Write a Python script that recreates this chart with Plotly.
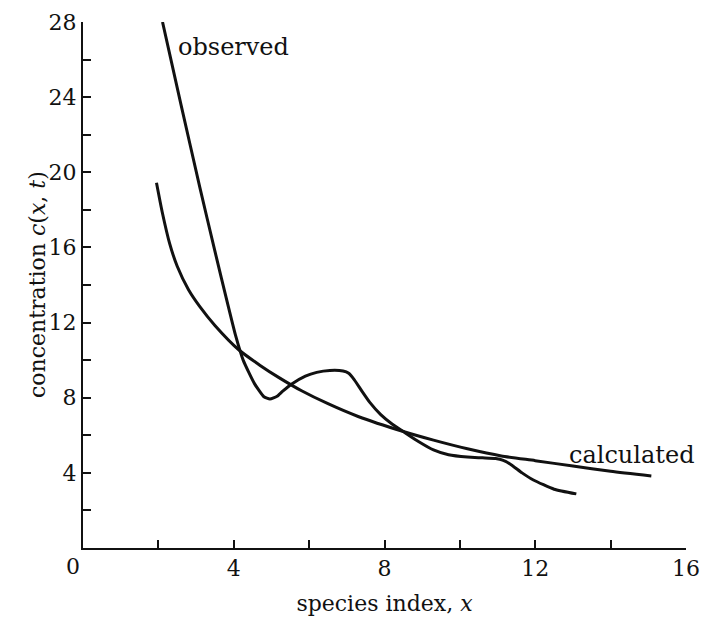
import plotly.graph_objects as go

# observed concentration curve
obs_x = [2.11, 2.6, 3.1, 3.5, 3.85, 4.05, 4.25, 4.55, 4.8, 4.96, 5.15, 5.3, 5.53,
         5.9, 6.2, 6.55, 6.9, 7.05, 7.2, 7.4, 7.61, 7.9, 8.2, 8.5, 8.9, 9.3, 9.7, 10.2,
         10.6, 10.95, 11.15, 11.35, 11.65, 11.95, 12.5, 13.09]
obs_y = [28.0, 23.6, 19.2, 15.8, 12.9, 11.3, 10.0, 8.75, 8.05, 7.93, 8.08, 8.35, 8.72,
         9.15, 9.35, 9.45, 9.42, 9.3, 8.95, 8.35, 7.75, 7.1, 6.6, 6.2, 5.67, 5.22, 4.96, 4.84,
         4.8, 4.76, 4.66, 4.45, 4.0, 3.62, 3.13, 2.88]

# calculated concentration curve
calc_x = [1.95, 2.1, 2.3, 2.5, 2.8, 3.1, 3.5, 4.14, 4.7, 5.2, 5.8, 6.5, 7.3, 8.5, 9.3, 10.2,
          11.1, 12.0, 13.0, 14.0, 15.08]
calc_y = [19.44, 17.9, 16.2, 15.0, 13.75, 12.85, 11.85, 10.54, 9.72, 9.07, 8.37, 7.68, 7.0,
          6.2, 5.74, 5.28, 4.9, 4.65, 4.36, 4.08, 3.83]

x_ticks = [4, 8, 12, 16]
y_ticks = [4, 8, 12, 16, 20, 24, 28]

FONT = "DejaVu Serif"
BLACK = "#111111"

fig = go.Figure()
fig.add_trace(go.Scatter(x=obs_x, y=obs_y, mode="lines",
                         line=dict(color=BLACK, width=3, shape="spline", smoothing=0.5),
                         hoverinfo="skip", showlegend=False))
fig.add_trace(go.Scatter(x=calc_x, y=calc_y, mode="lines",
                         line=dict(color=BLACK, width=3, shape="spline", smoothing=0.6),
                         hoverinfo="skip", showlegend=False))

fig.add_annotation(x=4.0, y=26.66, text="observed", showarrow=False,
                   font=dict(family=FONT, size=24, color=BLACK))
fig.add_annotation(x=14.56, y=4.95, text="calculated", showarrow=False,
                   font=dict(family=FONT, size=24, color=BLACK))
fig.add_annotation(x=0, y=0, text="0", showarrow=False, xanchor="center", yanchor="top",
                   xshift=-10, yshift=-4,
                   font=dict(family=FONT, size=22, color=BLACK))
# y-axis title
fig.add_annotation(xref="paper", yref="paper", x=0, y=0.5, xshift=-46,
                   text="concentration <i>c</i>(<i>x</i>, <i>t</i>)", textangle=-90,
                   showarrow=False, xanchor="center", yanchor="middle",
                   font=dict(family=FONT, size=22, color=BLACK))

fig.update_layout(
    width=701, height=620,
    margin=dict(l=83, r=15, t=22, b=72),
    paper_bgcolor="white", plot_bgcolor="white",
    font=dict(family=FONT, size=22, color=BLACK),
    xaxis=dict(range=[0, 16], tickvals=x_ticks, ticks="inside", ticklen=8, tickwidth=1.5,
               tickcolor=BLACK, showline=True, linecolor=BLACK, linewidth=2,
               showgrid=False, zeroline=False, automargin=False,
               minor=dict(tickvals=[2, 6, 10, 14], ticks="inside", ticklen=8,
                          tickwidth=1.5, tickcolor=BLACK, showgrid=False),
               title=dict(text="species index, <i>x</i>", font=dict(family=FONT, size=22))),
    yaxis=dict(range=[0, 28], tickvals=y_ticks, ticks="inside", ticklen=8, tickwidth=1.5,
               tickcolor=BLACK, showline=True, linecolor=BLACK, linewidth=2,
               showgrid=False, zeroline=False, automargin=False,
               minor=dict(tickvals=[2, 6, 10, 14, 18, 22, 26], ticks="inside", ticklen=8,
                          tickwidth=1.5, tickcolor=BLACK, showgrid=False)),
)

fig.write_html("out.html")
